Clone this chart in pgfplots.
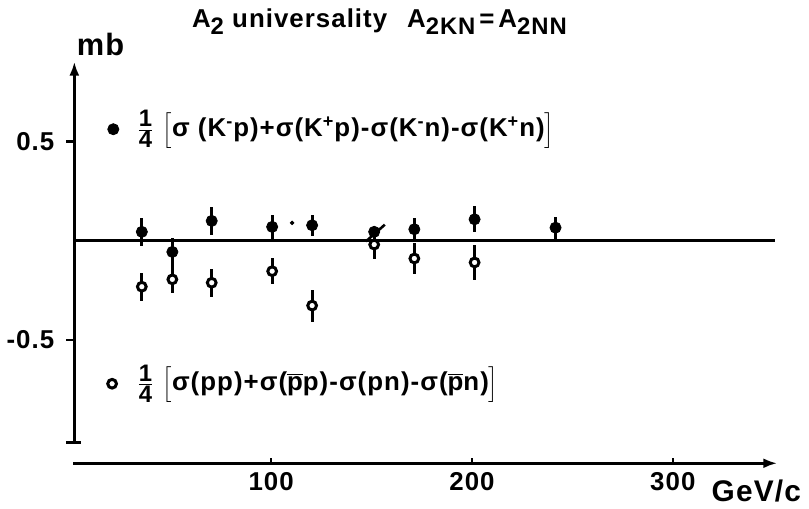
\documentclass[border=0pt]{standalone}
\usepackage{fontspec}
\setmainfont[LetterSpace=4]{Liberation Sans}
\usepackage{pgfplots}
\pgfplotsset{compat=1.18}
\usetikzlibrary{arrows.meta}

\pgfplotstableread{
x y e
35.6 0.044 0.07
50.8 -0.057 0.07
70.4 0.099 0.07
100.5 0.069 0.06
120.4 0.077 0.052
151.3 0.044 0.0
171.3 0.057 0.056
201.3 0.107 0.065
241.6 0.065 0.055
}\filled

\pgfplotstableread{
x y e
35.6 -0.232 0.07
50.8 -0.195 0.068
70.4 -0.212 0.07
100.5 -0.154 0.065
120.4 -0.327 0.08
151.3 -0.02 0.075
171.3 -0.09 0.076
201.3 -0.11 0.09
}\opendata

\newcommand{\fr}{\ensuremath{\textstyle\frac{\mbox{\fontsize{12}{12}\selectfont\bfseries 1}}{\mbox{\fontsize{12}{12}\selectfont\bfseries 4}}}}
\newcommand{\pb}{\ensuremath{\overline{\mbox{\bfseries p}}}}
\tikzset{lbl/.style={font=\fontsize{13}{15}\selectfont\bfseries},
         tck/.style={font=\fontsize{13}{15}\selectfont\bfseries}}
\newcommand{\sub}[1]{\raisebox{-3.5pt}{\fontsize{12}{13}\selectfont\bfseries #1}}

\begin{document}
\begin{tikzpicture}
\begin{axis}[
  scale only axis, width=404.5pt, height=255pt,
  xmin=-32.67, xmax=367.82, ymin=-1.34, ymax=1.21,
  axis line style={draw=none}, xtick=\empty, ytick=\empty,
  clip=false,
]
% axes
\draw[line width=1.5pt,-{Latex[length=7pt,width=5pt]}] (axis cs:2,-1.015) -- (axis cs:2,0.90);
\draw[line width=1.5pt] (axis cs:-2,-1.015) -- (axis cs:5.5,-1.015);
\draw[line width=1.5pt] (axis cs:-2,0.5) -- (axis cs:3,0.5);
\draw[line width=1.5pt] (axis cs:-2,-0.5) -- (axis cs:3,-0.5);
\draw[line width=1.5pt,-{Latex[length=7pt,width=5pt]}] (axis cs:1.5,-1.12) -- (axis cs:352,-1.12);
\draw[line width=1.2pt] (axis cs:100,-1.12) -- (axis cs:100,-1.095);
\draw[line width=1.2pt] (axis cs:200,-1.12) -- (axis cs:200,-1.095);
\draw[line width=1.2pt] (axis cs:300,-1.12) -- (axis cs:300,-1.095);
\draw[line width=1.6pt] (axis cs:2,0) -- (axis cs:351,0);
% labels
\node[tck,anchor=east] at (axis cs:-4.5,0.5) {0.5};
\node[tck,anchor=east] at (axis cs:-4.5,-0.5) {-0.5};
\node[tck] at (axis cs:100,-1.21) {100};
\node[tck] at (axis cs:200,-1.21) {200};
\node[tck] at (axis cs:300,-1.21) {300};
\node[font=\fontsize{15}{17}\selectfont\bfseries] at (axis cs:341.6,-1.26) {GeV/c};
\node[anchor=base west,inner sep=0pt,font=\fontsize{15.5}{17}\selectfont\bfseries] at (axis cs:3,0.93) {mb};
\node[lbl,anchor=base west,inner sep=0pt] at (axis cs:60.4,1.07) {A\sub{2} universality};
\node[lbl,anchor=base west,inner sep=0pt] at (axis cs:167.5,1.07) {A\sub{2KN}\hspace{2pt}=\hspace{2pt}A\sub{2NN}};
\node[lbl,anchor=west,inner sep=0pt] at (axis cs:32.7,0.56) {\fr\ \ensuremath{\left[\vphantom{\fr}\mbox{\bfseries σ (K\textsuperscript{-}p)+σ(K\textsuperscript{+}p)-σ(K\textsuperscript{-}n)-σ(K\textsuperscript{+}n)}\right]}};
\node[lbl,anchor=west,inner sep=0pt] at (axis cs:32.7,-0.72) {\fr\ \ensuremath{\left[\vphantom{\fr}\mbox{\bfseries σ(pp)+σ(\pb p)-σ(pn)-σ(\pb n)}\right]}};
% data
\addplot[only marks, mark=*, mark size=2.8pt, black,
  error bars/.cd, y dir=both, y explicit, error mark=none,
  error bar style={line width=1.4pt}] table[x=x,y=y,y error=e] {\filled};
\addplot[only marks, mark=*, mark size=2.2pt, mark options={fill=white, draw=black, line width=1.5pt}, black,
  error bars/.cd, y dir=both, y explicit, error mark=none,
  error bar style={line width=1.4pt}] table[x=x,y=y,y error=e] {\opendata};
\addplot[line width=1.3pt, black, no marks] coordinates {(147.2,-0.004) (156.6,0.08)};
\addplot[only marks, mark=*, mark size=0.9pt, black] coordinates {(110.4,0.089)};
% legend marks
\addplot[only marks, mark=*, mark size=2.8pt, black] coordinates {(21.4,0.56)};
\addplot[only marks, mark=*, mark size=2.2pt, mark options={fill=white, draw=black, line width=1.5pt}] coordinates {(20.8,-0.72)};
\end{axis}
\end{tikzpicture}
\end{document}
